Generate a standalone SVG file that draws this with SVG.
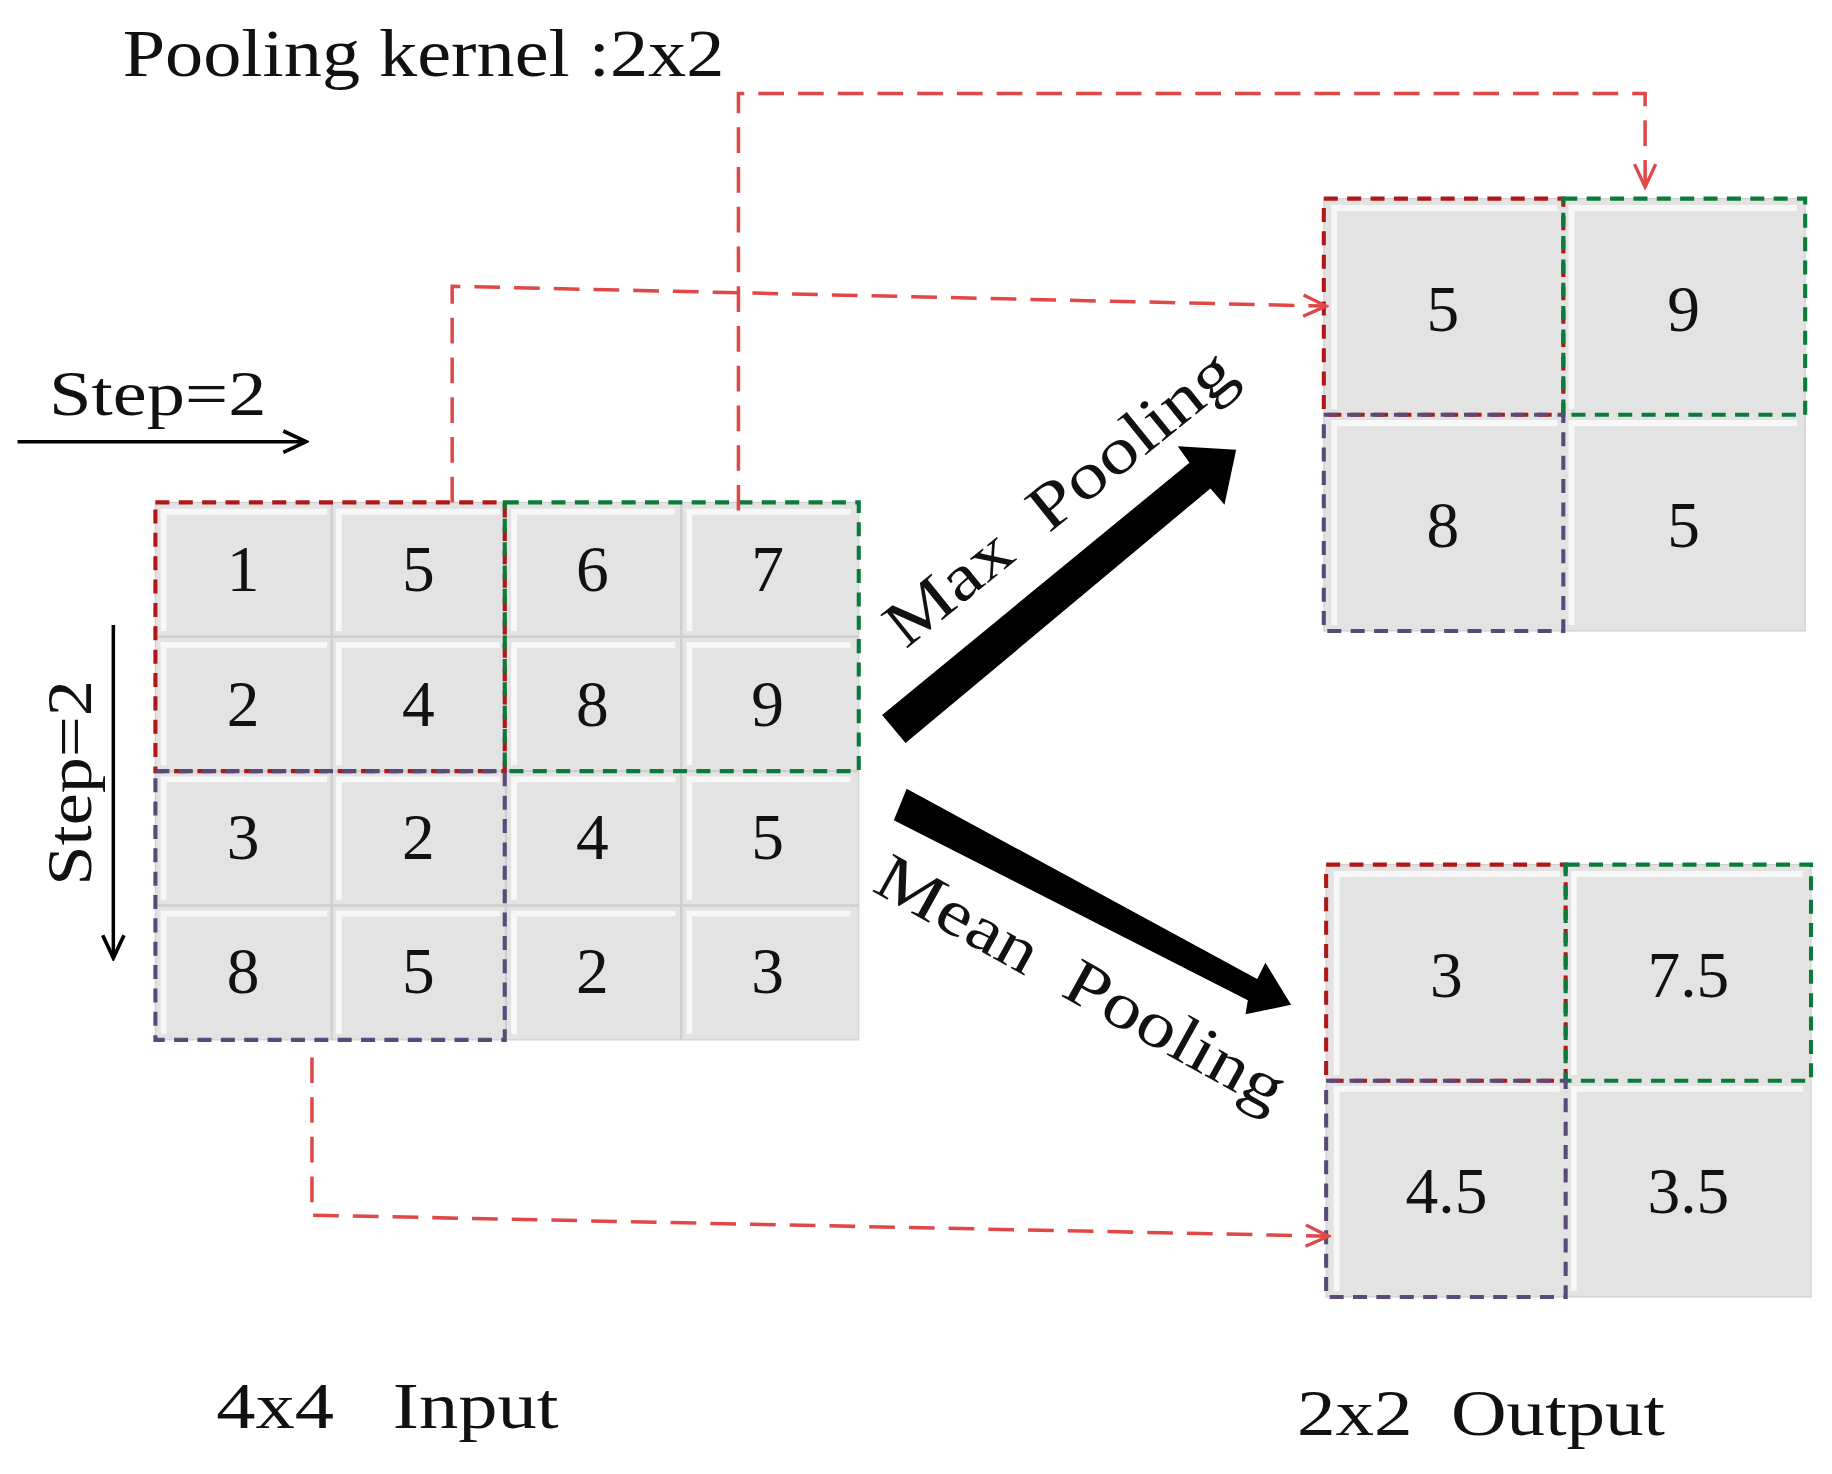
<svg xmlns="http://www.w3.org/2000/svg" width="1832" height="1474" viewBox="0 0 1832 1474">
<style>
text{font-family:"Liberation Serif","Times New Roman",serif;fill:#111;white-space:pre}
.n{font-size:56px;text-anchor:middle}
.c{fill:#e3e3e3;stroke:#cfcfcf;stroke-width:1}
.hl{fill:none;stroke:#f7f7f7;stroke-width:5}
.r{fill:none;stroke:#b01818;stroke-width:3.5;stroke-dasharray:12 8}
.g{fill:none;stroke:#0b7a3a;stroke-width:3.5;stroke-dasharray:12 8}
.p{fill:none;stroke:#5a4a7a;stroke-width:3.5;stroke-dasharray:12 8}
.rd{fill:none;stroke:#e04848;stroke-width:3;stroke-dasharray:22 12}
.bk{fill:none;stroke:#000;stroke-width:3}
</style>
<defs>
<marker id="ra" viewBox="0 0 20 20" refX="18" refY="10" markerWidth="26" markerHeight="26" orient="auto" markerUnits="userSpaceOnUse"><path d="M3,3 L18,10 L3,17" fill="none" stroke="#e04848" stroke-width="2.2"/></marker>
<marker id="ba" viewBox="0 0 20 20" refX="18" refY="10" markerWidth="26" markerHeight="26" orient="auto" markerUnits="userSpaceOnUse"><path d="M3,3 L18,10 L3,17" fill="none" stroke="#000" stroke-width="2.4"/></marker>
</defs>
<rect width="1832" height="1474" fill="#fff"/>
<g transform="scale(1.1684)">
<text x="105" y="65" font-size="58" textLength="515" lengthAdjust="spacingAndGlyphs">Pooling kernel :2x2</text>
<g id="input">
<rect class="c" x="133" y="430" width="602" height="460"/>
<g id="cells">
<path class="hl" d="M140,540 V438 H280 M290,540 V438 H428 M440,540 V438 H578 M590,540 V438 H728 M140,655 V552 H280 M290,655 V552 H428 M440,655 V552 H578 M590,655 V552 H728 M140,770 V667 H280 M290,770 V667 H428 M440,770 V667 H578 M590,770 V667 H728 M140,885 V782 H280 M290,885 V782 H428 M440,885 V782 H578 M590,885 V782 H728"/>
<path d="M284,430 V890 M433,430 V890 M583,430 V890 M133,545 H735 M133,660 H735 M133,775 H735" stroke="#cfcfcf" stroke-width="2"/>
</g>
<text class="n" x="208" y="506">1</text><text class="n" x="358" y="506">5</text><text class="n" x="507" y="506">6</text><text class="n" x="657" y="506">7</text>
<text class="n" x="208" y="621">2</text><text class="n" x="358" y="621">4</text><text class="n" x="507" y="621">8</text><text class="n" x="657" y="621">9</text>
<text class="n" x="208" y="735">3</text><text class="n" x="358" y="735">2</text><text class="n" x="507" y="735">4</text><text class="n" x="657" y="735">5</text>
<text class="n" x="208" y="850">8</text><text class="n" x="358" y="850">5</text><text class="n" x="507" y="850">2</text><text class="n" x="657" y="850">3</text>
<rect class="r" x="133" y="430" width="299" height="230"/>
<rect class="g" x="432" y="430" width="303" height="230"/>
<rect class="p" x="133" y="660" width="299" height="230"/>
</g>
<g id="out-max">
<rect class="c" x="1133" y="170" width="412" height="370"/>
<path class="hl" d="M1142,350 V178 H1333 M1345,350 V178 H1538 M1142,535 V362 H1333 M1345,535 V362 H1538"/>
<text class="n" x="1235" y="283">5</text><text class="n" x="1441" y="283">9</text>
<text class="n" x="1235" y="468">8</text><text class="n" x="1441" y="468">5</text>
<rect class="r" x="1133" y="170" width="205" height="185"/>
<rect class="g" x="1338" y="170" width="207" height="185"/>
<rect class="p" x="1133" y="355" width="205" height="185"/>
</g>
<g id="out-mean">
<rect class="c" x="1135" y="740" width="415" height="370"/>
<path class="hl" d="M1144,920 V748 H1335 M1347,920 V748 H1543 M1144,1105 V932 H1335 M1347,1105 V932 H1543"/>
<text class="n" x="1238" y="853">3</text><text class="n" x="1445" y="853">7.5</text>
<text class="n" x="1238" y="1038">4.5</text><text class="n" x="1445" y="1038">3.5</text>
<rect class="r" x="1135" y="740" width="205" height="185"/>
<rect class="g" x="1340" y="740" width="210" height="185"/>
<rect class="p" x="1135" y="925" width="205" height="185"/>
</g>
<g id="connectors">
<path class="rd" d="M387,430 V245 L1135,262" marker-end="url(#ra)"/>
<path class="rd" d="M632,437 V80 H1408 V160" marker-end="url(#ra)"/>
<path class="rd" d="M267,905 V1040 L1137,1058" marker-end="url(#ra)"/>
<path class="bk" d="M15,378 H262" marker-end="url(#ba)"/>
<path class="bk" d="M97,535 V820" marker-end="url(#ba)"/>
<polygon points="755,612 1018,396 1008,382 1058,385 1048,432 1036,418 775,636" fill="#000"/>
<polygon points="776,675 1076,838 1083,824 1105,860 1066,868 1068,856 765,702" fill="#000"/>
</g>
<text x="42" y="355" font-size="54" textLength="186" lengthAdjust="spacingAndGlyphs">Step=2</text>
<text transform="translate(78,758) rotate(-90)" font-size="54" textLength="176" lengthAdjust="spacingAndGlyphs">Step=2</text>
<text transform="translate(775,556) rotate(-39)" font-size="56" textLength="368" lengthAdjust="spacingAndGlyphs">Max  Pooling</text>
<text transform="translate(745,762) rotate(29)" font-size="56" textLength="392" lengthAdjust="spacingAndGlyphs">Mean  Pooling</text>
<text x="185" y="1222" font-size="56" textLength="293" lengthAdjust="spacingAndGlyphs">4x4   Input</text>
<text x="1110" y="1228" font-size="56" textLength="315" lengthAdjust="spacingAndGlyphs">2x2  Output</text>
</g>
</svg>
